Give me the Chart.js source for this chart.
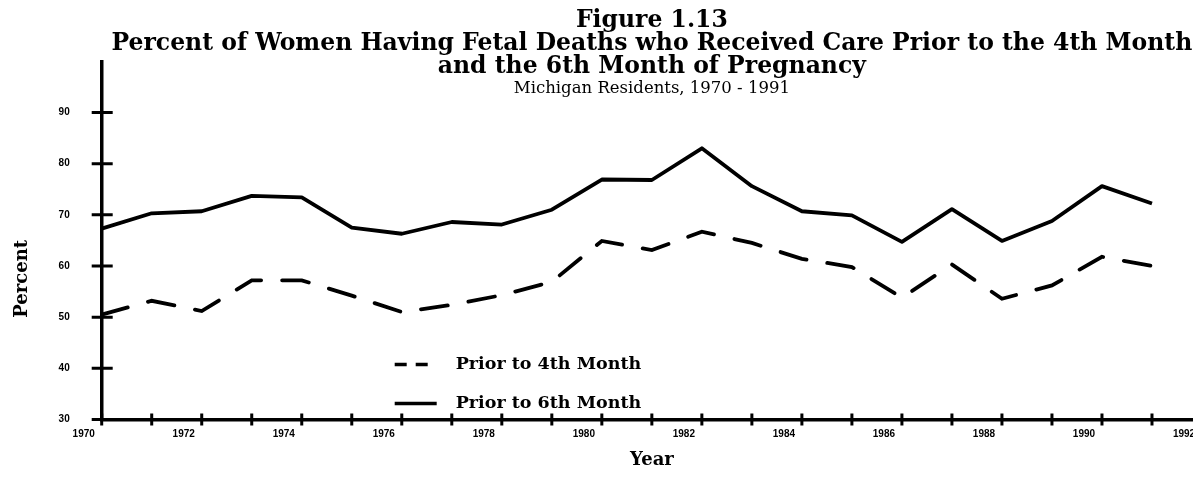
<!DOCTYPE html>
<html>
<head>
<meta charset="utf-8">
<title>Figure 1.13</title>
<script src="https://cdn.jsdelivr.net/npm/chart.js@4.4.1/dist/chart.umd.min.js"></script>
<style>
  html, body { margin: 0; padding: 0; background: #fff; overflow: hidden; }
  #wrap { position: relative; width: 1225px; height: 483px; }
</style>
</head>
<body>
<div id="wrap"><canvas id="lineChart"></canvas></div>
<script>
// percent of women with fetal deaths who got prenatal care early
const years = [1970, 1971, 1972, 1973, 1974, 1975, 1976, 1977, 1978, 1979, 1980,
               1981, 1982, 1983, 1984, 1985, 1986, 1987, 1988, 1989, 1990, 1991];
const priorTo4th = [50.5, 53.2, 51.2, 57.2, 57.2, 54.2, 51.0, 52.4, 54.3, 56.9, 64.9,
                    63.1, 66.7, 64.5, 61.4, 59.8, 53.8, 60.3, 53.6, 56.2, 61.8, 60.0];
const priorTo6th = [67.3, 70.3, 70.7, 73.7, 73.4, 67.5, 66.3, 68.6, 68.1, 71.0, 76.9,
                    76.8, 83.0, 75.6, 70.7, 69.9, 64.7, 71.1, 64.9, 68.8, 75.6, 72.2];
const seriesNames = ['Prior to 4th Month', 'Prior to 6th Month'];
const yTickLabels = [30, 40, 50, 60, 70, 80, 90];
const xTickLabels = [1970, 1972, 1974, 1976, 1978, 1980, 1982, 1984, 1986, 1988, 1990, 1992];

const serif = '"DejaVu Serif", serif';
const tickFont = { family: '"Liberation Sans", Arial, sans-serif', size: 10, weight: 'bold' };

function toPoints(values) {
  return years.map((yr, i) => ({ x: yr, y: values[i] }));
}

// axis ticks that cross the axis line on both sides
const crossTicks = {
  id: 'crossTicks',
  afterDraw(chart) {
    const { ctx, chartArea, scales } = chart;
    ctx.save();
    ctx.strokeStyle = '#000';
    ctx.lineWidth = 3;
    ctx.beginPath();
    scales.y.ticks.forEach(t => {
      if (!yTickLabels.includes(t.value)) return;
      const py = scales.y.getPixelForValue(t.value);
      ctx.moveTo(chartArea.left - 10, py);
      ctx.lineTo(chartArea.left + 11, py);
    });
    scales.x.ticks.forEach(t => {
      const px = scales.x.getPixelForValue(t.value);
      ctx.moveTo(px, chartArea.bottom - 6);
      ctx.lineTo(px, chartArea.bottom + 6);
    });
    ctx.stroke();
    ctx.restore();
  }
};

// legend rows in the lower part of the plot, plus the rotated y title
const plotNotes = {
  id: 'plotNotes',
  afterDraw(chart) {
    const { ctx, chartArea } = chart;
    ctx.save();
    ctx.fillStyle = '#000';
    ctx.strokeStyle = '#000';
    ctx.lineWidth = 3.5;
    ctx.font = 'bold 17.5px ' + serif;
    ctx.textBaseline = 'middle';
    const x0 = chartArea.left + 293;
    const rows = [chartArea.bottom - 55, chartArea.bottom - 16];
    chart.data.datasets.forEach((ds, i) => {
      const y = rows[i];
      ctx.beginPath();
      if (ds.borderDash && ds.borderDash.length) {
        ctx.moveTo(x0, y); ctx.lineTo(x0 + 12, y);
        ctx.moveTo(x0 + 21, y); ctx.lineTo(x0 + 33, y);
      } else {
        ctx.moveTo(x0, y); ctx.lineTo(x0 + 42, y);
      }
      ctx.stroke();
      ctx.fillText(ds.label, x0 + 61, y);
    });

    ctx.font = 'bold 18px ' + serif;
    ctx.translate(22, chart.scales.y.getPixelForValue(57.5));
    ctx.rotate(-Math.PI / 2);
    ctx.textAlign = 'center';
    ctx.fillText('Percent', 0, 0);
    ctx.restore();
  }
};

const ctx = document.getElementById('lineChart').getContext('2d');
const fetalCareChart = new Chart(ctx, {
  type: 'line',
  data: {
    datasets: [{
      label: seriesNames[0],
      data: toPoints(priorTo4th),
      borderColor: '#000',
      borderWidth: 3.8,
      borderDash: [27, 21],
      borderCapStyle: 'round',
      pointRadius: 0,
      tension: 0
    }, {
      label: seriesNames[1],
      data: toPoints(priorTo6th),
      borderColor: '#000',
      borderWidth: 3.8,
      borderJoinStyle: 'round',
      pointRadius: 0,
      tension: 0
    }]
  },
  options: {
    responsive: true,
    maintainAspectRatio: false,
    animation: false,
    layout: { padding: { left: 0, right: 23, top: 0, bottom: 0 } },
    scales: {
      x: {
        type: 'linear',
        min: 1970,
        max: 1992,
        afterFit: scale => { scale.height = 63.5; },
        grid: { display: false },
        border: { display: true, color: '#000', width: 3.5 },
        ticks: {
          stepSize: 1,
          autoSkip: false,
          maxRotation: 0,
          padding: 1,
          labelOffset: -18,
          color: '#000',
          font: tickFont,
          callback: v => xTickLabels.includes(v) ? String(v) : ''
        },
        title: {
          display: true,
          text: 'Year',
          color: '#000',
          font: { family: serif, size: 18, weight: 'bold' },
          padding: { top: 0, bottom: 12 }
        }
      },
      y: {
        min: 30,
        max: 100,
        afterFit: scale => { scale.width = 101.7; },
        grid: { display: false },
        border: { display: true, color: '#000', width: 3.5 },
        ticks: {
          stepSize: 10,
          padding: 24,
          color: '#000',
          font: tickFont,
          callback: v => yTickLabels.includes(v) ? String(v) : ''
        }
      }
    },
    plugins: {
      legend: { display: false },
      tooltip: { enabled: false },
      title: {
        display: true,
        fullSize: false,
        text: ['Figure 1.13',
               'Percent of Women Having Fetal Deaths who Received Care Prior to the 4th Month',
               'and the 6th Month of Pregnancy'],
        color: '#000',
        font: { family: serif, size: 23.5, weight: 'bold', lineHeight: '23px' },
        padding: { top: 9.5, bottom: -17.2 }
      },
      subtitle: {
        display: true,
        fullSize: false,
        text: 'Michigan Residents, 1970 - 1991',
        color: '#000',
        font: { family: serif, size: 16.5, lineHeight: 1.2 },
        padding: { top: 17.1, bottom: -36.9 }
      }
    }
  },
  plugins: [crossTicks, plotNotes]
});
</script>
</body>
</html>
